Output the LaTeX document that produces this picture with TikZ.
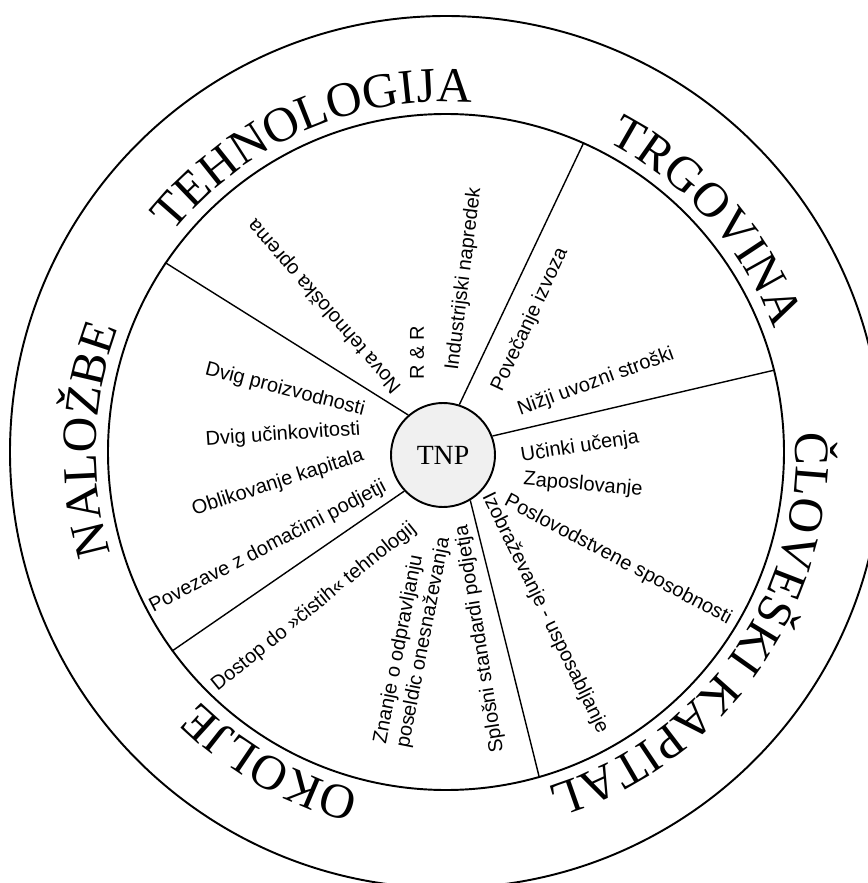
\documentclass[tikz,border=0pt]{standalone}
\usepackage{fontspec}
\setmainfont{Liberation Serif}
\newfontfamily\labelsans{Liberation Sans}
\usetikzlibrary{decorations.text}
\newcommand{\ringfont}{\fontsize{28}{31}\selectfont}
\tikzset{%
  every wheel/.style={
    circle,
    draw,
    line width=1.1pt,
    inner sep=0pt
  },
  sector label/.style={
    font=\labelsans\fontsize{11.4}{13.2}\selectfont,
    inner sep=0pt
  },
  ring title/.style={
    decorate,
    decoration={text along path, text align=center, text={|\ringfont|#1}}
  },
}

\begin{document}
\begin{tikzpicture}
    \useasboundingbox (-8.92,-8.62) rectangle (8.42,9.04);

    \node (outer) [every wheel, minimum size=17.44cm] at (0,0) {};
    \node (inner) [every wheel, minimum size=13.52cm] at (0,0) {};
    \node (tnp) [every wheel, minimum size=2.08cm, fill=gray!12, font=\fontsize{15.8}{17}\selectfont] at (-0.06,-0.06) {TNP};

    \draw   [line width=0.8pt] (tnp.131)--(inner.146);
    \draw   [line width=0.8pt] (tnp.72)--(inner.66);
    \draw   [line width=0.8pt] (tnp.21)--(inner.14);
    \draw   [line width=0.8pt] (tnp.-59)--(inner.-74);
    \draw   [line width=0.8pt] (tnp.223)--(inner.216);

    \path   [ring title={TEHNOLOGIJA}] (173.5:7) arc[start angle=173.5, end angle=53.5, radius=7];
    \path   [ring title={TRGOVINA}] (101.5:7) arc[start angle=101.5, end angle=-18.5, radius=7];
    \path   [ring title={ČLOVEŠKI KAPITAL}] (35:7) arc[start angle=35, end angle=-105, radius=7];
    \path   [ring title={OKOLJE}] (300.5:7) arc[start angle=300.5, end angle=180.5, radius=7];
    \path   [ring title={NALOŽBE}] (238:7) arc[start angle=238, end angle=118, radius=7];

    \node (nova) [sector label, rotate=131] at (-2.42,2.92) {Nova tehnološka oprema};
    \node (rr) [sector label, rotate=90] at (-0.58,1.98) {R \& R};
    \node (industrija) [sector label, rotate=83] at (0.36,3.46) {Industrijski napredek};
    \node (izvoz) [sector label, rotate=65] at (1.68,2.64) {Povečanje izvoza};
    \node (uvoz) [sector label, rotate=20] at (3.0,1.4) {Nižji uvozni stroški};
    \node (ucenje) [sector label, rotate=9] at (2.68,0.1) {Učinki učenja};
    \node (zaposlitev) [sector label, rotate=-5] at (2.74,-0.66) {Zaposlovanje};
    \node (poslovodstvo) [sector label, rotate=-28] at (3.44,-2.16) {Poslovodstvene sposobnosti};
    \node (izobrazba) [sector label, rotate=-64] at (1.98,-3.22) {Izobraževanje - usposabljanje};
    \node (standardi) [sector label, rotate=99] at (0.68,-3.74) {Splošni standardi podjetja};
    \node (znanje) [sector label, rotate=79, anchor=west, align=left] at (-1.08,-5.88) {Znanje o odpravljanju\\poseldic onesnaževanja};
    \node (dostop) [sector label, rotate=39] at (-2.64,-3.1) {Dostop do »čistih« tehnologij};
    \node (povezave) [sector label, rotate=27.5] at (-3.56,-1.9) {Povezave z domačimi podjetji};
    \node (kapital) [sector label, rotate=18] at (-3.36,-0.62) {Oblikovanje kapitala};
    \node (ucinkovitost) [sector label, rotate=4] at (-3.26,0.34) {Dvig učinkovitosti};
    \node (proizvodnja) [sector label, rotate=-14.5] at (-3.22,1.24) {Dvig proizvodnosti};
\end{tikzpicture}
\end{document}
